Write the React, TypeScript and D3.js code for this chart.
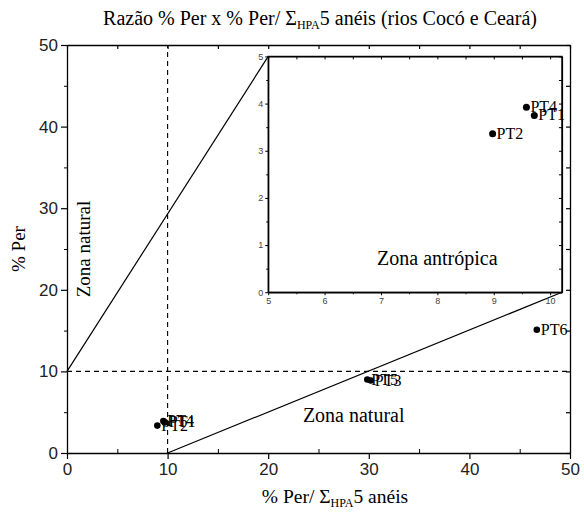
import React, { useEffect, useRef } from 'react';
import * as d3 from 'd3';

// pontos (x = % Per/ΣHPA 5 anéis, y = % Per)
const pointNames = ['PT1', 'PT2', 'PT3', 'PT4', 'PT5', 'PT6'];
const perRatio = [9.72, 8.98, 30.2, 9.58, 29.85, 46.7];
const perPct = [3.75, 3.36, 8.88, 3.92, 9.0, 15.1];

// somente os pontos mostrados no zoom
const insetNames = ['PT1', 'PT2', 'PT4'];

const mainTicks = [0, 10, 20, 30, 40, 50];
const mainMinor = [5, 15, 25, 35, 45];
const insetTicks = [5, 6, 7, 8, 9, 10];
const insetYTicks = [0, 1, 2, 3, 4, 5];

// linhas de limite: [x1, y1, x2, y2]
const upperLine = [0, 10, 20, 48.6];
const lowerLine = [10, 0, 49.2, 19.7];
const insetBox = [20, 48.6, 49.2, 19.7];

const App: React.FC = () => {
    const ref = useRef<SVGSVGElement>(null);

    const W = 584, H = 514;
    const margin = { top: 45, right: 14, bottom: 61, left: 67 };

    useEffect(() => {
        const svg = d3.select(ref.current);
        svg.selectAll('*').remove();

        const x = d3.scaleLinear().domain([0, 50]).range([margin.left, W - margin.right]);
        const y = d3.scaleLinear().domain([0, 50]).range([H - margin.bottom, margin.top]);

        const sans = '"Liberation Sans", Arial, sans-serif';
        const serif = '"Liberation Serif", "Times New Roman", serif';

        const data = pointNames.map((n, i) => ({ name: n, x: perRatio[i], y: perPct[i] }));

        // dashed reference lines
        svg.append('line')
            .attr('x1', x(10)).attr('x2', x(10)).attr('y1', y(0)).attr('y2', y(50))
            .attr('stroke', '#000').attr('stroke-width', 1.1).attr('stroke-dasharray', '5,4');
        svg.append('line')
            .attr('x1', x(0)).attr('x2', x(50)).attr('y1', y(10)).attr('y2', y(10))
            .attr('stroke', '#000').attr('stroke-width', 1.1).attr('stroke-dasharray', '5,4');

        // boundary lines
        [upperLine, lowerLine].forEach(l => {
            svg.append('line')
                .attr('x1', x(l[0])).attr('y1', y(l[1])).attr('x2', x(l[2])).attr('y2', y(l[3]))
                .attr('stroke', '#000').attr('stroke-width', 1.2);
        });

        // axes
        const axStyle = (g) => {
            g.select('.domain').attr('stroke-width', 1.3);
            g.selectAll('line').attr('stroke-width', 1.2);
            g.selectAll('text').attr('font-family', sans).attr('font-size', 17).attr('fill', '#222');
        };
        svg.append('g').attr('transform', `translate(0,${y(0)})`)
            .call(d3.axisBottom(x).tickValues(mainTicks).tickSize(6).tickSizeOuter(0).tickPadding(4))
            .call(axStyle);
        svg.append('g').attr('transform', `translate(0,${y(0)})`)
            .call(d3.axisBottom(x).tickValues(mainMinor).tickSize(-4).tickFormat(() => ''))
            .call(g => g.select('.domain').remove());
        svg.append('g').attr('transform', `translate(${x(0)},0)`)
            .call(d3.axisLeft(y).tickValues(mainTicks).tickSize(6).tickSizeOuter(0).tickPadding(3))
            .call(axStyle);
        svg.append('g').attr('transform', `translate(${x(0)},0)`)
            .call(d3.axisLeft(y).tickValues(mainMinor).tickSize(3).tickFormat(() => ''))
            .call(g => g.select('.domain').remove());
        svg.append('g').attr('transform', `translate(0,${y(50)})`)
            .call(d3.axisTop(x).tickValues(mainTicks.concat(mainMinor)).tickSize(-4).tickSizeOuter(0).tickFormat(() => ''))
            .call(axStyle);
        svg.append('g').attr('transform', `translate(${x(50)},0)`)
            .call(d3.axisRight(y).tickValues(mainTicks.concat(mainMinor)).tickSize(-4).tickSizeOuter(0).tickFormat(() => ''))
            .call(axStyle);

        // points main
        svg.append('g').selectAll('circle').data(data).enter().append('circle')
            .attr('cx', d => x(d.x)).attr('cy', d => y(d.y)).attr('r', 3.3).attr('fill', '#000');
        svg.append('g').selectAll('text').data(data).enter().append('text')
            .attr('x', d => x(d.x) + 4).attr('y', d => y(d.y) + 5)
            .attr('font-family', serif).attr('font-size', 16).attr('fill', '#000')
            .text(d => d.name);

        // zone labels
        svg.append('text')
            .attr('transform', `translate(${x(2.3)},${y(25)}) rotate(-90)`)
            .attr('text-anchor', 'middle')
            .attr('font-family', serif).attr('font-size', 19)
            .text('Zona natural');
        svg.append('text')
            .attr('x', x(28.5)).attr('y', y(3.8))
            .attr('text-anchor', 'middle')
            .attr('font-family', serif).attr('font-size', 20)
            .text('Zona natural');

        // inset
        const ix0 = x(insetBox[0]), iy0 = y(insetBox[1]), ix1 = x(insetBox[2]), iy1 = y(insetBox[3]);
        svg.append('rect')
            .attr('x', ix0).attr('y', iy0).attr('width', ix1 - ix0).attr('height', iy1 - iy0)
            .attr('fill', '#fff').attr('stroke', '#000').attr('stroke-width', 1.3);

        const xi = d3.scaleLinear().domain([5, 10.21]).range([ix0, ix1]);
        const yi = d3.scaleLinear().domain([0, 5]).range([iy1, iy0]);
        const iMinorX = d3.range(5.5, 10.2, 1);
        const iMinorY = d3.range(0.5, 5, 1);

        const inStyle = (g) => {
            g.select('.domain').attr('stroke-width', 1.3);
            g.selectAll('line').attr('stroke-width', 1);
            g.selectAll('text').attr('font-family', sans).attr('font-size', 9).attr('fill', '#444');
        };
        svg.append('g').attr('transform', `translate(0,${iy1})`)
            .call(d3.axisBottom(xi).tickValues(insetTicks).tickSize(3).tickSizeOuter(0).tickPadding(2).tickFormat(d3.format('d')))
            .call(inStyle);
        svg.append('g').attr('transform', `translate(0,${iy1})`)
            .call(d3.axisBottom(xi).tickValues(iMinorX).tickSize(2).tickFormat(() => ''))
            .call(g => g.select('.domain').remove());
        svg.append('g').attr('transform', `translate(${ix0},0)`)
            .call(d3.axisLeft(yi).tickValues(insetYTicks).tickSize(3).tickSizeOuter(0).tickPadding(2).tickFormat(d3.format('d')))
            .call(inStyle);
        svg.append('g').attr('transform', `translate(${ix0},0)`)
            .call(d3.axisLeft(yi).tickValues(iMinorY).tickSize(2).tickFormat(() => ''))
            .call(g => g.select('.domain').remove());
        svg.append('g').attr('transform', `translate(${ix1},0)`)
            .call(d3.axisRight(yi).tickValues(insetYTicks.concat(iMinorY)).tickSize(-3).tickSizeOuter(0).tickFormat(() => ''))
            .call(inStyle);
        svg.append('g').attr('transform', `translate(0,${iy0})`)
            .call(d3.axisTop(xi).tickValues(insetTicks.concat(iMinorX)).tickSize(-3).tickSizeOuter(0).tickFormat(() => ''))
            .call(inStyle);

        const insetData = data.filter(d => insetNames.includes(d.name));
        svg.append('g').selectAll('circle').data(insetData).enter().append('circle')
            .attr('cx', d => xi(d.x)).attr('cy', d => yi(d.y)).attr('r', 3.5).attr('fill', '#000');
        svg.append('g').selectAll('text').data(insetData).enter().append('text')
            .attr('x', d => xi(d.x) + 4).attr('y', d => yi(d.y) + 5)
            .attr('font-family', serif).attr('font-size', 16).attr('fill', '#000')
            .text(d => d.name);

        svg.append('text')
            .attr('x', xi(8.0)).attr('y', yi(0.57))
            .attr('text-anchor', 'middle')
            .attr('font-family', serif).attr('font-size', 20)
            .text('Zona antrópica');

        // title
        const title = svg.append('text')
            .attr('x', 320).attr('y', 25).attr('text-anchor', 'middle')
            .attr('font-family', serif).attr('font-size', 20);
        title.append('tspan').text('Razão % Per x % Per/ Σ');
        title.append('tspan').attr('font-size', 12).attr('dy', 4).text('HPA');
        title.append('tspan').attr('dy', -4).text('5 anéis (rios Cocó e Ceará)');

        // x label
        const xl = svg.append('text')
            .attr('x', 335).attr('y', 503).attr('text-anchor', 'middle')
            .attr('font-family', serif).attr('font-size', 19.5);
        xl.append('tspan').text('% Per/ Σ');
        xl.append('tspan').attr('font-size', 12).attr('dy', 4).text('HPA');
        xl.append('tspan').attr('dy', -4).text('5 anéis');

        // y label
        svg.append('text')
            .attr('transform', `translate(25,${y(25)}) rotate(-90)`)
            .attr('text-anchor', 'middle')
            .attr('font-family', serif).attr('font-size', 19)
            .text('% Per');
    }, []);

    return (
        <svg ref={ref} width={W} height={H}
            style={{ position: 'absolute', left: 0, top: 0, background: '#fff' }} />
    );
};

export default App;
